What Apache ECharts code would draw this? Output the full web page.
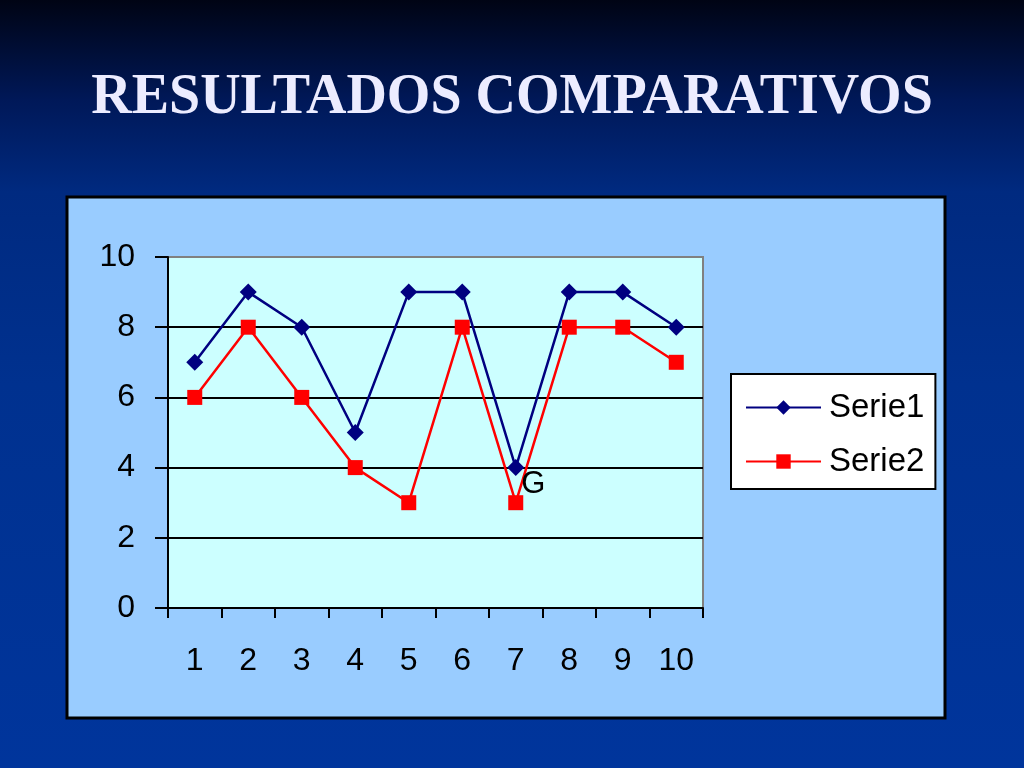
<!DOCTYPE html>
<html><head><meta charset="utf-8">
<script src="https://cdn.jsdelivr.net/npm/echarts@6/dist/echarts.min.js"></script>
<style>
html,body{margin:0;padding:0;width:1024px;height:768px;overflow:hidden;}
body{background:linear-gradient(180deg,#000414 0%,#001858 13%,#002a80 25%,#00318f 50%,#00359c 100%);}
#c{width:1024px;height:768px;}
</style></head><body><div id="c"></div>
<script>
const titleText = 'RESULTADOS COMPARATIVOS';
const categories = ['1','2','3','4','5','6','7','8','9','10'];
const serie1 = [7, 9, 8, 5, 9, 9, 4, 9, 9, 8];
const serie2 = [6, 8, 6, 4, 3, 8, 3, 8, 8, 7];
const yTicks = {min: 0, max: 10, interval: 2};
const strayLabelIndex = 6;
const strayLabel = 'G';
const FONT = '"Liberation Sans", Arial, sans-serif';

const chart = echarts.init(document.getElementById('c'), null, {renderer: 'canvas'});
const s1data = serie1.map((v, i) => i === strayLabelIndex ? {
  value: v,
  label: {show: true, formatter: strayLabel, position: 'right', distance: -3, offset: [0, 17],
          color: '#000', fontSize: 31, fontFamily: FONT}
} : v);

chart.setOption({
  backgroundColor: 'transparent',
  animation: false,
  graphic: [
    {type: 'rect', shape: {x: 67, y: 197, width: 878, height: 521},
     style: {fill: '#99ccff', stroke: '#000', lineWidth: 3}, z: -10},
    {type: 'text', left: 'center', top: 71,
     style: {text: titleText, fill: '#ececff', font: 'bold 56px "Liberation Serif", "Times New Roman", serif',
             shadowColor: 'rgba(0,0,0,0.9)', shadowOffsetX: 3, shadowOffsetY: 3, shadowBlur: 2}}
  ],
  grid: {left: 168, top: 257, right: 321, bottom: 160, show: true, backgroundColor: '#ccffff',
         borderColor: '#808080', borderWidth: 2},
  legend: {
    orient: 'vertical', left: 731, top: 374,
    backgroundColor: '#ffffff', borderColor: '#000', borderWidth: 2, borderRadius: 0,
    padding: [17, 11, 11, 14], itemGap: 21, itemWidth: 75, itemHeight: 18,
    textStyle: {fontSize: 33, color: '#000', fontFamily: FONT, padding: [0, 0, 0, 3]},
    data: ['Serie1', 'Serie2']
  },
  xAxis: {
    type: 'category', data: categories, boundaryGap: true,
    axisLine: {lineStyle: {color: '#000', width: 2}},
    axisTick: {show: true, length: 10, lineStyle: {color: '#000', width: 2}},
    axisLabel: {fontSize: 32, color: '#000', margin: 37, fontFamily: FONT},
    splitLine: {show: false}
  },
  yAxis: {
    type: 'value', min: yTicks.min, max: yTicks.max, interval: yTicks.interval,
    axisLine: {show: true, lineStyle: {color: '#000', width: 2}},
    axisTick: {show: true, length: 13, lineStyle: {color: '#000', width: 2}},
    axisLabel: {fontSize: 32, color: '#000', margin: 33, fontFamily: FONT},
    splitLine: {show: true, showMaxLine: false, lineStyle: {color: '#000', width: 2}}
  },
  series: [
    {name: 'Serie1', type: 'line', data: s1data, symbol: 'diamond', symbolSize: 17,
     color: '#000080', lineStyle: {width: 2.5, color: '#000080'}, itemStyle: {color: '#000080'}, z: 3},
    {name: 'Serie2', type: 'line', data: serie2, symbol: 'rect', symbolSize: 15,
     color: '#ff0000', lineStyle: {width: 2.5, color: '#ff0000'}, itemStyle: {color: '#ff0000'}, z: 2}
  ]
});
</script></body></html>
